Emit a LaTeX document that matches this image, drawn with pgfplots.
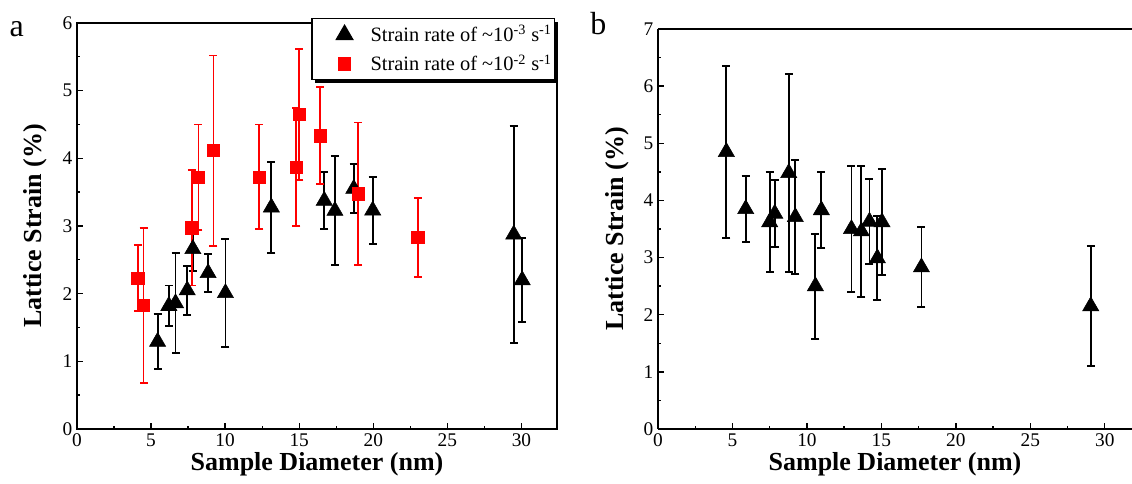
\documentclass[border=0pt]{standalone}
\usepackage{fontspec}
\setmainfont{Liberation Serif}
\usepackage{pgfplots}
\pgfplotsset{compat=1.18}
\usetikzlibrary{shadows}

\pgfplotstableread{
x y e
4.11 2.23 0.49
4.49 1.83 1.145
7.75 2.975 0.855
8.20 3.72 0.78
9.21 4.115 1.405
12.31 3.725 0.775
14.81 3.87 0.87
15.01 4.65 0.97
16.42 4.335 0.715
18.97 3.475 1.055
23.01 2.83 0.58
}\redA

\pgfplotstableread{
x y e
5.44 1.29 0.405
6.20 1.82 0.30
6.65 1.86 0.74
7.44 2.05 0.36
7.82 2.66 0.33
8.85 2.305 0.285
10.02 2.01 0.80
13.12 3.275 0.675
16.69 3.375 0.425
17.41 3.225 0.805
18.68 3.55 0.36
19.96 3.23 0.49
29.48 2.875 1.605
30.05 2.20 0.62
}\blackA

\pgfplotstableread{
x y e
4.59 4.85 1.51
5.89 3.85 0.57
7.50 3.62 0.87
7.84 3.77 0.58
8.78 4.48 1.74
9.22 3.71 1.00
10.57 2.50 0.92
10.97 3.83 0.67
12.99 3.50 1.10
13.66 3.46 1.15
14.20 3.63 0.74
14.73 2.99 0.73
15.04 3.62 0.93
17.69 2.83 0.70
29.06 2.15 1.05
}\blackB

\pgfplotsset{
  panel/.style={
    scale only axis,
    axis line style={line width=1.2pt},
    tick style={line width=1pt, black},
    major tick length=4.5pt,
    minor tick length=2.5pt,
    tick pos=left,
    xtick={0,5,...,30},
    minor x tick num=1,
    minor y tick num=1,
    tick label style={font=\fontsize{14.5}{16}\selectfont},
    /pgf/number format/assume math mode=true,
    label style={font=\bfseries\fontsize{19.5}{22}\selectfont},
    xlabel={Sample Diameter (nm)},
    ylabel={Lattice Strain (\%)},
    xlabel style={at={(axis description cs:0.5,0)}, anchor=base, yshift=-31pt},
  },
  tri/.style={only marks, mark=triangle*, mark size=7pt, black,
    mark options={fill=black, draw=black},
    error bars/.cd, y dir=both, y explicit,
    error bar style={line width=1.4pt, black},
    error mark options={rotate=90, mark size=3pt, line width=1.4pt, black}},
  sq/.style={only marks, mark=square*, mark size=4.6pt, red,
    mark options={fill=red, draw=red},
    error bars/.cd, y dir=both, y explicit,
    error bar style={line width=1.4pt, red},
    error mark options={rotate=90, mark size=3pt, line width=1.4pt, red}},
}

\begin{document}
\begin{tikzpicture}
\useasboundingbox (0,0) rectangle (849pt,363pt);

\begin{axis}[panel,
  at={(57.75pt,41.25pt)}, anchor=south west,
  width=360pt, height=304.5pt,
  xmin=0, xmax=32.4, ymin=0, ymax=6,
  ytick={0,1,...,6},
  ylabel style={at={(axis description cs:-0.086,0.5)}, anchor=center},
  legend cell align=left,
  legend image code/.code={%
    \path[draw=none, fill=none] (-24.5pt,0pt) (17.5pt,0pt);
    \draw[#1, only marks] plot coordinates {(0pt,0pt)};},
  legend style={at={(axis description cs:0.996,1.012)}, anchor=north east,
    draw=black, line width=1pt, fill=white,
    font=\fontsize{15.3}{17}\selectfont,
    drop shadow={shadow xshift=2.2pt, shadow yshift=-2.2pt, fill=black, opacity=1},
    inner xsep=0pt, inner ysep=3pt, row sep=4pt},
]
\addplot[tri] table[x=x, y=y, y error=e] {\blackA};
\addlegendentry{Strain rate of \textasciitilde10\textsuperscript{-3} s\textsuperscript{-1}}
\addplot[sq] table[x=x, y=y, y error=e] {\redA};
\addlegendentry{Strain rate of \textasciitilde10\textsuperscript{-2} s\textsuperscript{-1}}
\end{axis}

\begin{axis}[panel, name=B,
  at={(493.5pt,41.25pt)}, anchor=south west,
  width=355.5pt, height=300pt,
  xmin=0, xmax=31.83, ymin=0, ymax=7,
  ytick={0,1,...,7},
  axis x line*=bottom, axis y line*=left,
  axis line style={line width=1.2pt, -},
  ylabel style={at={(axis description cs:-0.085,0.5)}, anchor=center},
]
\addplot[tri] table[x=x, y=y, y error=e] {\blackB};
\end{axis}
\draw[line width=1.2pt] (B.north west) -- (B.north east);

\node[font=\fontsize{24}{28}\selectfont, anchor=base west, inner sep=0pt] at (7pt,335.5pt) {a};
\node[font=\fontsize{24}{28}\selectfont, anchor=base west, inner sep=0pt] at (442.5pt,337pt) {b};
\end{tikzpicture}
\end{document}
